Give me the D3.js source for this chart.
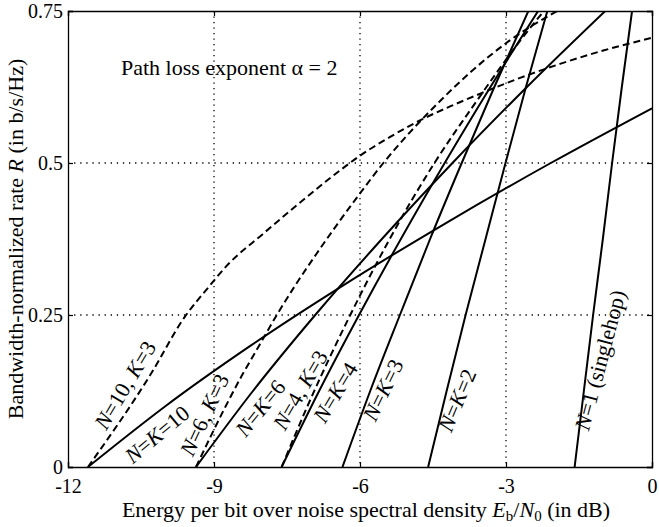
<!DOCTYPE html>
<html lang="en">
<head>
<meta charset="UTF-8">
<title>Rate vs Eb/N0</title>
<script src="https://cdn.jsdelivr.net/npm/d3@7"></script>
<style>
  body { margin: 0; background: #fff; }
  svg text { font-family: "Liberation Serif", "DejaVu Serif", serif; fill: #000; }
</style>
</head>
<body>
<div id="chart"></div>
<script>
// tick labels
const xTicks = [-12, -9, -6, -3, 0];
const yTicks = [0, 0.25, 0.5, 0.75];
const yTickText = ["0", "0.25", "0.5", "0.75"];

// curves: [Eb/N0 in dB, rate R]
const nk1  = [[-1.59,0],[-1.40,0.125],[-1.21,0.25],[-1.01,0.375],[-0.82,0.5],[-0.62,0.625],[-0.41,0.75]];
const nk2  = [[-4.60,0],[-4.22,0.125],[-3.83,0.25],[-3.42,0.375],[-3.01,0.5],[-2.59,0.625],[-2.15,0.75]];
const nk3  = [[-6.36,0],[-5.79,0.125],[-5.18,0.25],[-4.56,0.375],[-3.91,0.5],[-3.24,0.625],[-2.54,0.75]];
const nk4  = [[-7.61,0],[-6.84,0.125],[-6.02,0.25],[-5.16,0.375],[-4.26,0.5],[-3.32,0.625],[-2.34,0.75]];
const nk6  = [[-9.37,0],[-8.20,0.125],[-6.92,0.25],[-5.55,0.375],[-4.10,0.5],[-2.57,0.625],[-0.96,0.75]];
const nk10 = [[-11.59,0],[-10.0,0.1],[-8.24,0.2],[-6.32,0.3],[-4.26,0.4],[-2.08,0.5],[0,0.59]];

const n10k3 = [[-11.59,0],[-10.32,0.15],[-9.60,0.247],[-9.10,0.297],[-8.75,0.330],[-8.0,0.383],
  [-7.23,0.435],[-6.6,0.476],[-6.0,0.512],[-5.38,0.543],[-4.77,0.570],[-4.15,0.593],
  [-3.53,0.614],[-2.71,0.640],[-1.89,0.663],[-1.0,0.685],[0,0.706]];
const n6k3 = [[-9.37,0],[-9.07,0.05],[-8.76,0.10],[-8.43,0.15],[-8.07,0.20],[-7.71,0.25],
  [-7.32,0.30],[-6.90,0.35],[-6.46,0.40],[-6.0,0.45],[-5.52,0.50],[-4.98,0.55],
  [-4.38,0.60],[-3.72,0.65],[-2.95,0.70],[-1.95,0.75]];
const n4k3 = [[-7.61,0],[-7.08,0.1],[-6.20,0.25],[-5.39,0.375],[-4.47,0.5],[-3.62,0.6],[-2.72,0.70],[-2.22,0.75]];

const solid = [nk1, nk2, nk3, nk4, nk6, nk10];
const dashed = [n10k3, n6k3, n4k3];

// curve labels: text parts (italic flag), centre point, angle
const labels = [
  {parts: [["N",1],["=10, ",0],["K",1],["=3",0]], x: -10.83, y: 0.135, a: -59},
  {parts: [["N",1],["=",0],["K",1],["=10",0]], x: -10.17, y: 0.054, a: -40},
  {parts: [["N",1],["=6, ",0],["K",1],["=3",0]], x: -9.20, y: 0.086, a: -65},
  {parts: [["N",1],["=",0],["K",1],["=6",0]], x: -8.05, y: 0.097, a: -51},
  {parts: [["N",1],["=4, ",0],["K",1],["=3",0]], x: -7.23, y: 0.127, a: -60},
  {parts: [["N",1],["=",0],["K",1],["=4",0]], x: -6.51, y: 0.123, a: -59},
  {parts: [["N",1],["=",0],["K",1],["=3",0]], x: -5.53, y: 0.127, a: -64},
  {parts: [["N",1],["=",0],["K",1],["=2",0]], x: -4.01, y: 0.110, a: -67},
  {parts: [["N",1],["=1 (singlehop)",0]], x: -1.07, y: 0.176, a: -75}
];

const W = 659, H = 527;
const margin = {top: 11, right: 7, bottom: 60, left: 68};
const w = W - margin.left - margin.right;
const h = H - margin.top - margin.bottom;
const fs = "22px";

const svg = d3.select("#chart").append("svg")
  .attr("width", W).attr("height", H);
const g = svg.append("g")
  .attr("transform", "translate(" + margin.left + "," + margin.top + ")");

const x = d3.scaleLinear().domain([-12, 0]).range([0, w]);
const y = d3.scaleLinear().domain([0, 0.75]).range([h, 0]);

// dotted grid
g.selectAll(".gx").data(xTicks.slice(1, -1)).enter().append("line")
  .attr("x1", d => x(d)).attr("x2", d => x(d))
  .attr("y1", 0).attr("y2", h)
  .attr("stroke", "#000").attr("stroke-width", 1.3)
  .attr("stroke-dasharray", "1.3,4.2");
g.selectAll(".gy").data(yTicks.slice(1, -1)).enter().append("line")
  .attr("x1", 0).attr("x2", w)
  .attr("y1", d => y(d)).attr("y2", d => y(d))
  .attr("stroke", "#000").attr("stroke-width", 1.3)
  .attr("stroke-dasharray", "1.3,4.8");

// axes with inward ticks
g.append("g").attr("transform", "translate(0," + h + ")")
  .call(d3.axisBottom(x).tickValues(xTicks).tickSize(-5).tickPadding(12)
    .tickFormat(d => d === 0 ? "0" : String(d)));
g.append("g")
  .call(d3.axisLeft(y).tickValues(yTicks).tickSize(-5).tickPadding(5)
    .tickFormat((d, i) => yTickText[i]));
g.append("g").call(d3.axisTop(x).tickValues(xTicks).tickSize(-5).tickFormat(""));
g.append("g").attr("transform", "translate(" + w + ",0)")
  .call(d3.axisRight(y).tickValues(yTicks).tickSize(-5).tickFormat(""));
g.selectAll(".domain").attr("stroke", "#000").attr("stroke-width", 1.3);
g.selectAll(".tick line").attr("stroke", "#000").attr("stroke-width", 1.2);
g.selectAll(".tick text").style("font-size", "20px");

// curves
g.append("clipPath").attr("id", "clip").append("rect")
  .attr("width", w).attr("height", h);
const line = d3.line().x(d => x(d[0])).y(d => y(d[1])).curve(d3.curveMonotoneX);
const plot = g.append("g").attr("clip-path", "url(#clip)");
plot.selectAll(".solid").data(solid).enter().append("path")
  .attr("d", line).attr("fill", "none")
  .attr("stroke", "#000").attr("stroke-width", 2);
plot.selectAll(".dash").data(dashed).enter().append("path")
  .attr("d", line).attr("fill", "none")
  .attr("stroke", "#000").attr("stroke-width", 2)
  .attr("stroke-dasharray", "7,4");

// curve labels
labels.forEach(l => {
  const t = g.append("text")
    .attr("transform", "translate(" + x(l.x) + "," + y(l.y) + ") rotate(" + l.a + ")")
    .attr("text-anchor", "middle").attr("dy", "0.35em")
    .style("font-size", fs);
  l.parts.forEach(p => {
    t.append("tspan").text(p[0]).style("font-style", p[1] ? "italic" : "normal");
  });
});

// annotation
g.append("text").attr("x", 121 - margin.left).attr("y", 75 - margin.top)
  .style("font-size", fs)
  .text("Path loss exponent \u03b1 = 2");

// axis titles
const xl = svg.append("text")
  .attr("x", margin.left + w / 2 + 6).attr("y", 517)
  .attr("text-anchor", "middle").style("font-size", fs);
xl.append("tspan").text("Energy per bit over noise spectral density ");
xl.append("tspan").text("E").style("font-style", "italic");
xl.append("tspan").text("b").style("font-size", "15px").attr("dy", 4);
xl.append("tspan").text("/").attr("dy", -4);
xl.append("tspan").text("N").style("font-style", "italic");
xl.append("tspan").text("0").style("font-size", "15px").attr("dy", 4);
xl.append("tspan").text(" (in dB)").attr("dy", -4);

const yl = svg.append("text")
  .attr("transform", "translate(23," + (margin.top + h / 2) + ") rotate(-90)")
  .attr("text-anchor", "middle").style("font-size", fs);
yl.append("tspan").text("Bandwidth-normalized rate ");
yl.append("tspan").text("R").style("font-style", "italic");
yl.append("tspan").text(" (in b/s/Hz)");
</script>
</body>
</html>
